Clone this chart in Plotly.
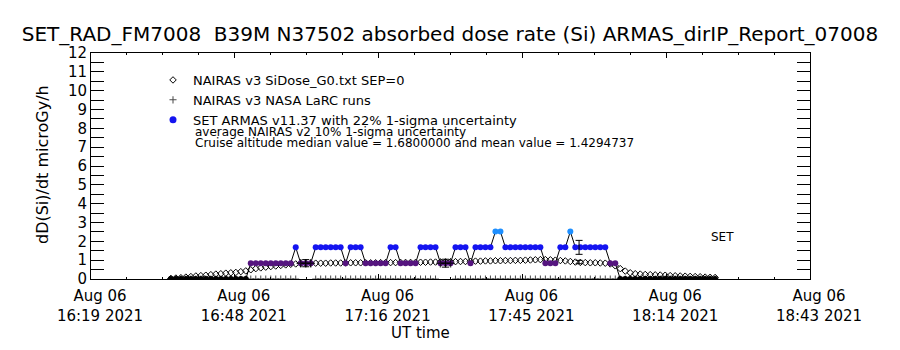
import plotly.graph_objects as go

DATE = "2021-08-06 "

# sample times (UT), one-minute samples
TIMES = [
    "16:35", "16:36", "16:37", "16:38", "16:39", "16:40", "16:41", "16:42", "16:43", "16:44",
    "16:45", "16:46", "16:47", "16:48", "16:49", "16:50", "16:51", "16:52", "16:53", "16:54",
    "16:55", "16:56", "16:57", "16:58", "16:59", "17:00", "17:01", "17:02", "17:03", "17:04",
    "17:05", "17:06", "17:07", "17:08", "17:09", "17:10", "17:11", "17:12", "17:13", "17:14",
    "17:15", "17:16", "17:17", "17:18", "17:19", "17:20", "17:21", "17:22", "17:23", "17:24",
    "17:25", "17:26", "17:27", "17:28", "17:29", "17:30", "17:31", "17:32", "17:33", "17:34",
    "17:35", "17:36", "17:37", "17:38", "17:39", "17:40", "17:41", "17:42", "17:43", "17:44",
    "17:45", "17:46", "17:47", "17:48", "17:49", "17:50", "17:51", "17:52", "17:53", "17:54",
    "17:55", "17:56", "17:57", "17:58", "17:59", "18:00", "18:01", "18:02", "18:03", "18:04",
    "18:05", "18:06", "18:07", "18:08", "18:09", "18:10", "18:11", "18:12", "18:13", "18:14",
    "18:15", "18:16", "18:17", "18:18", "18:19", "18:20", "18:21", "18:22", "18:23", "18:24",
]

# NAIRAS v3 SiDose_G0 (diamonds)
NAIRAS_SIDOSE = [
    0.03, 0.05, 0.07, 0.10, 0.13, 0.16, 0.18, 0.20, 0.23, 0.26,
    0.28, 0.31, 0.33, 0.35, 0.39, 0.43, 0.49, 0.55, 0.59, 0.63,
    0.66, 0.69, 0.72, 0.75, 0.78, 0.80, 0.82, 0.83, 0.83, 0.84,
    0.84, 0.84, 0.85, 0.85, 0.85, 0.85, 0.86, 0.86, 0.86, 0.86,
    0.86, 0.86, 0.87, 0.87, 0.87, 0.87, 0.88, 0.88, 0.88, 0.88,
    0.89, 0.89, 0.90, 0.90, 0.91, 0.91, 0.92, 0.92, 0.93, 0.93,
    0.94, 0.95, 0.95, 0.96, 0.96, 0.97, 0.97, 0.98, 0.98, 0.99,
    0.99, 1.00, 1.01, 1.02, 1.03, 1.03, 1.02, 1.00, 0.98, 0.96,
    0.93, 0.90, 0.88, 0.87, 0.86, 0.86, 0.85, 0.84, 0.80, 0.70,
    0.55, 0.42, 0.33, 0.28, 0.26, 0.24, 0.23, 0.22, 0.21, 0.20,
    0.18, 0.17, 0.16, 0.15, 0.14, 0.13, 0.12, 0.10, 0.09, 0.08,
]

# NAIRAS v3 NASA LaRC runs (+)
NAIRAS_LARC = [
    0, 0, 0, 0, 0, 0, 0, 0, 0, 0,
    0, 0, 0, 0, 0, 0, 0, 0, 0, 0,
    0, 0, 0, 0, 0, 0, 0.84, 0.84, 0.84, 0,
    0, 0, 0, 0, 0, 0, 0, 0, 0, 0,
    0, 0, 0, 0, 0, 0, 0, 0, 0, 0,
    0, 0, 0, 0, 0.84, 0.84, 0.84, 0, 0, 0,
    0, 0, 0, 0, 0, 0, 0, 0, 0, 0,
    0, 0, 0, 0, 0, 0, 0, 0, 0, 0,
    0, 0, 0, 0, 0, 0, 0, 0, 0, 0,
    0, 0, 0, 0, 0, 0, 0, 0, 0, 0,
    0, 0, 0, 0, 0, 0, 0, 0, 0, 0,
]

# SET ARMAS v11.37 absorbed dose rate
ARMAS = [
    0, 0, 0, 0, 0, 0, 0, 0, 0, 0,
    0, 0, 0, 0, 0, 0, 0.84, 0.84, 0.84, 0.84,
    0.84, 0.84, 0.84, 0.84, 0.84, 1.68, 0.84, 0.84, 0.84, 1.68,
    1.68, 1.68, 1.68, 1.68, 1.68, 0.84, 1.68, 1.68, 1.68, 0.84,
    0.84, 0.84, 0.84, 0.84, 1.68, 1.68, 0.84, 0.84, 0.84, 0.84,
    1.68, 1.68, 1.68, 1.68, 0.84, 0.84, 0.84, 1.68, 1.68, 1.68,
    0.84, 1.68, 1.68, 1.68, 1.68, 2.52, 2.52, 1.68, 1.68, 1.68,
    1.68, 1.68, 1.68, 1.68, 1.68, 0.84, 0.84, 0.84, 1.68, 1.68,
    2.52, 1.68, 1.68, 1.68, 1.68, 1.68, 1.68, 1.68, 0.84, 0.84,
    0, 0, 0, 0, 0, 0, 0, 0, 0, 0,
    0, 0, 0, 0, 0, 0, 0, 0, 0, 0,
]

# uncertainty indicators
UNC_TIMES = ["17:02:00", "17:30:00", "17:56:45", "17:56:45"]
UNC_VALUES = [0.84, 0.84, 1.68, 0.90]
UNC_ERRORS = [0.19, 0.21, 0.37, 0.09]

# axis ticks
X_RANGE = ["16:19:00", "18:43:00"]
X_TICKS = ["16:19:00", "16:47:48", "17:16:36", "17:45:24", "18:14:12", "18:43:00"]
X_TICK_TEXT = ["Aug 06<br>16:19 2021", "Aug 06<br>16:48 2021", "Aug 06<br>17:16 2021",
               "Aug 06<br>17:45 2021", "Aug 06<br>18:14 2021", "Aug 06<br>18:43 2021"]
Y_TICKS = [0, 1, 2, 3, 4, 5, 6, 7, 8, 9, 10, 11, 12]

TITLE = "SET_RAD_FM7008  B39M N37502 absorbed dose rate (Si) ARMAS_dirIP_Report_07008"
LEGEND_NAMES = ["NAIRAS v3 SiDose_G0.txt SEP=0", "NAIRAS v3 NASA LaRC runs",
                "SET ARMAS v11.37 with 22% 1-sigma uncertainty"]
NOTE_1 = "average NAIRAS v2 10% 1-sigma uncertainty"
NOTE_2 = "Cruise altitude median value = 1.6800000 and mean value = 1.4294737"

FONT = "DejaVu Sans"
W, H = 900, 350
L, R, T, B = 91, 90, 53, 71
PW, PH = W - L - R, H - T - B


def px(xp):
    return (xp - L) / PW


def py(yp):
    return (H - B - yp) / PH


t = [DATE + s for s in TIMES]

fig = go.Figure()

fig.add_trace(go.Scatter(
    x=t, y=NAIRAS_SIDOSE, mode="markers", name=LEGEND_NAMES[0],
    marker=dict(symbol="diamond-open", size=5, color="black", line=dict(width=1, color="black")),
    legendrank=1,
))

fig.add_trace(go.Scatter(
    x=t, y=ARMAS, mode="lines", showlegend=False,
    line=dict(color="black", width=1),
))

fig.add_trace(go.Scatter(
    x=t, y=ARMAS, mode="markers", showlegend=False,
    marker=dict(symbol="circle", size=6, color=ARMAS, cmin=0, cmax=2.52,
                colorscale=[[0, "#000000"], [1 / 3, "#55157f"], [2 / 3, "#1414f0"], [1, "#1e8fff"]],
                line=dict(width=0)),
))

fig.add_trace(go.Scatter(
    x=t, y=NAIRAS_LARC, mode="markers", name=LEGEND_NAMES[1],
    marker=dict(symbol="cross-thin", size=[6 if v > 0 else 5 for v in NAIRAS_LARC],
                color="black", line=dict(width=[1.5 if v > 0 else 1 for v in NAIRAS_LARC], color="black")),
    legendrank=2,
))

fig.add_trace(go.Scatter(
    x=[DATE + s for s in UNC_TIMES], y=UNC_VALUES, mode="markers", showlegend=False,
    marker=dict(size=1, color="rgba(0,0,0,0)"),
    error_y=dict(type="data", array=UNC_ERRORS, visible=True, color="black", thickness=1, width=3.5),
))

# legend entry for the ARMAS markers
fig.add_trace(go.Scatter(
    x=[None], y=[None], mode="markers", name=LEGEND_NAMES[2],
    marker=dict(symbol="circle", size=7, color="#1414f0"),
    legendrank=3,
))

fig.update_layout(
    width=W, height=H,
    margin=dict(l=L, r=R, t=T, b=B),
    paper_bgcolor="white", plot_bgcolor="white",
    font=dict(family=FONT, color="black", size=12),
    title=dict(text=TITLE, x=0.5, xanchor="center", y=1 - 34 / H, yanchor="middle",
               yref="container", font=dict(size=20, family=FONT, color="black")),
    showlegend=True,
    legend=dict(x=px(153), y=py(65), xanchor="left", yanchor="top",
                bgcolor="rgba(0,0,0,0)", font=dict(size=13, family=FONT),
                tracegroupgap=0),
    xaxis=dict(
        type="date", range=[DATE + s for s in X_RANGE],
        tickmode="array", tickvals=[DATE + s for s in X_TICKS], ticktext=X_TICK_TEXT,
        ticks="inside", ticklen=5, tickwidth=1, tickcolor="black",
        minor=dict(ticks="inside", ticklen=2, tickwidth=1, tickcolor="black",
                   tick0=DATE + X_RANGE[0], dtick=432000),
        showline=True, linecolor="black", linewidth=1, mirror="allticks",
        showgrid=False, zeroline=False,
        tickfont=dict(size=15, family=FONT), ticklabelshift=9, ticklabelstandoff=3,
    ),
    yaxis=dict(
        range=[0, 12], tickmode="array", tickvals=Y_TICKS,
        ticks="inside", ticklen=13, tickwidth=1, tickcolor="black",
        minor=dict(ticks="inside", ticklen=13, tickwidth=1, tickcolor="black", dtick=0.5),
        showline=True, linecolor="black", linewidth=1, mirror="allticks",
        showgrid=False, zeroline=False,
        tickfont=dict(size=15, family=FONT),
    ),
    annotations=[
        dict(text=NOTE_1, x=px(193), y=py(132), xref="paper", yref="paper",
             xanchor="left", yanchor="middle", showarrow=False, font=dict(size=12, family=FONT)),
        dict(text=NOTE_2, x=px(193), y=py(143), xref="paper", yref="paper",
             xanchor="left", yanchor="middle", showarrow=False, font=dict(size=12, family=FONT)),
        dict(text="SET", x=px(722), y=py(237), xref="paper", yref="paper",
             xanchor="center", yanchor="middle", showarrow=False, font=dict(size=12, family=FONT)),
        dict(text="UT time", x=px(420), y=py(333), xref="paper", yref="paper",
             xanchor="center", yanchor="middle", showarrow=False, font=dict(size=15, family=FONT)),
        dict(text="dD(Si)/dt microGy/h", x=px(42), y=py(164), xref="paper", yref="paper",
             xanchor="center", yanchor="middle", textangle=-90, showarrow=False,
             font=dict(size=16, family=FONT)),
    ],
)

fig.write_html("out.html")
